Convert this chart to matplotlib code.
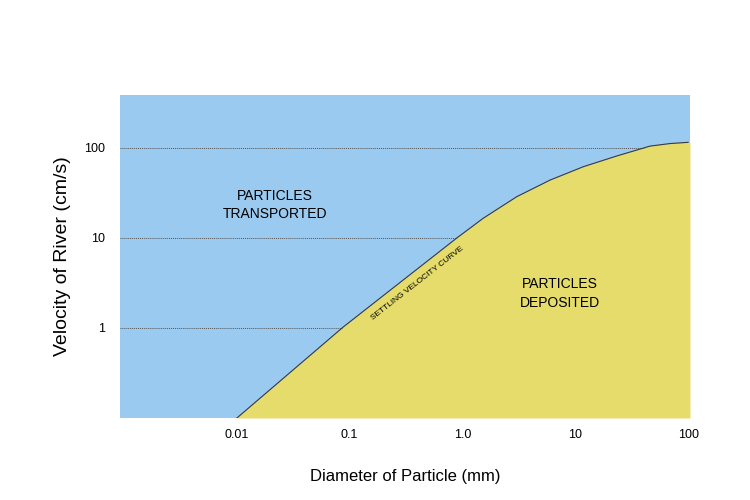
import matplotlib
matplotlib.use("Agg")
import matplotlib.pyplot as plt

plt.rcParams['font.family'] = ['Liberation Sans', 'DejaVu Sans']

# settling velocity curve
diameter = [0.01, 0.088, 0.89, 1.53, 3.03, 5.97, 11.8, 23.3, 46, 69, 100]
velocity = [0.1, 1.03, 10, 16.6, 28.8, 44, 62, 81.5, 105, 112, 115.6]

x_ticks = [0.01, 0.1, 1.0, 10, 100]
x_tick_labels = ['0.01', '0.1', '1.0', '10', '100']
y_ticks = [1, 10, 100]
y_tick_labels = ['1', '10', '100']

blue = '#9bcaf0'
yellow = '#e5dc6c'

fig = plt.figure(figsize=(7.5, 5), dpi=100)
ax = fig.add_axes([0.16, 0.164, 0.76, 0.646])
ax.set_xscale('log')
ax.set_yscale('log')
ax.set_xlim(0.00092, 104)
ax.set_ylim(0.1, 388)
ax.set_facecolor(blue)

# dotted guide lines, hidden under the yellow area
for yv in y_ticks:
    ax.axhline(yv, color='#555555', linestyle=(0, (1, 1)), linewidth=0.7, zorder=1)

ax.fill_between(diameter + [104], velocity + [velocity[-1]], 0.1, color=yellow, zorder=2, linewidth=0)
ax.plot(diameter, velocity, color='#3a3a3a', linewidth=0.8, zorder=3)

ax.set_xticks(x_ticks)
ax.set_xticklabels(x_tick_labels)
ax.set_yticks(y_ticks)
ax.set_yticklabels(y_tick_labels)
ax.minorticks_off()
ax.tick_params(length=0, labelsize=9)
ax.tick_params(axis='x', pad=8)
ax.tick_params(axis='y', pad=11)
for s in ax.spines.values():
    s.set_visible(False)

ax.set_xlabel('Diameter of Particle (mm)', fontsize=12, labelpad=20)
ax.set_ylabel('Velocity of River (cm/s)', fontsize=14, labelpad=9)

ax.text(0.272, 0.66, 'PARTICLES\nTRANSPORTED', transform=ax.transAxes, ha='center', va='center',
        fontsize=10, linespacing=1.4)
ax.text(0.772, 0.385, 'PARTICLES\nDEPOSITED', transform=ax.transAxes, ha='center', va='center',
        fontsize=10, linespacing=1.4)
ax.text(0.522, 0.418, 'SETTLING VELOCITY CURVE', transform=ax.transAxes, ha='center', va='center',
        fontsize=6, rotation=38)

fig.savefig('out.png', dpi=100)
